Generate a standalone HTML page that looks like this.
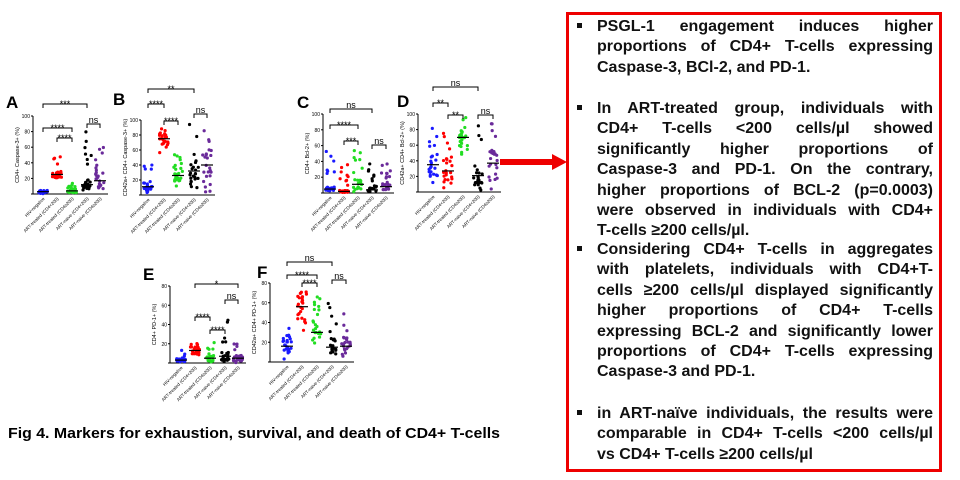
<!DOCTYPE html>
<html><head><meta charset="utf-8"><style>
html,body{margin:0;padding:0;background:#fff;width:960px;height:480px;overflow:hidden;font-family:"Liberation Sans",Arial,sans-serif}
#box{position:absolute;left:566px;top:12px;width:370px;height:454px;border:3px solid #ee0000}
.t{position:absolute;left:597px;width:336px;font-weight:bold;font-size:16px;line-height:20.4px;color:#111}
.t div{text-align:justify;text-align-last:justify;white-space:nowrap}
.t div.l{text-align-last:left}
.b{position:absolute;left:577px;width:5px;height:5px;background:#111}
</style></head><body>
<svg id="s" width="960" height="480" style="position:absolute;left:0;top:0"></svg>
<div id="box"></div>
<div class="b" style="left:577px;top:23px"></div>
<div class="t" style="top:17px"><div>PSGL-1 engagement induces higher</div><div>proportions of CD4+ T-cells expressing</div><div class="l">Caspase-3, BCl-2, and PD-1.</div></div>
<div class="b" style="top:105px"></div>
<div class="t" style="top:99px"><div>In ART-treated group, individuals with</div><div>CD4+ T-cells &lt;200 cells/µl showed</div><div>significantly higher proportions of</div><div>Caspase-3 and PD-1. On the contrary,</div><div>higher proportions of BCL-2 (p=0.0003)</div><div>were observed in individuals with CD4+</div><div class="l">T-cells ≥200 cells/µl.</div></div>
<div class="b" style="top:246px"></div>
<div class="t" style="top:240px"><div>Considering CD4+ T-cells in aggregates</div><div>with platelets, individuals with CD4+T-</div><div>cells ≥200 cells/µl displayed significantly</div><div>higher proportions of CD4+ T-cells</div><div>expressing BCL-2 and significantly lower</div><div>proportions of CD4+ T-cells expressing</div><div class="l">Caspase-3 and PD-1.</div></div>
<div class="b" style="top:410px"></div>
<div class="t" style="top:404px"><div>in ART-naïve individuals, the results were</div><div>comparable in CD4+ T-cells &lt;200 cells/µl</div><div class="l">vs CD4+ T-cells ≥200 cells/µl</div></div>
<script>
var NS="http://www.w3.org/2000/svg",S=document.getElementById('s'),seed=7;
function r(){seed=(seed*9301+49297)%233280;return seed/233280;}
function el(t,a,txt){var e=document.createElementNS(NS,t);for(var k in a)e.setAttribute(k,a[k]);if(txt)e.textContent=txt;S.appendChild(e);return e;}
var C=['#1a1aff','#ff0000','#22dd22','#000','#6a2a9a'];
var L=['HIV-negative','ART-treated (CD4<200)','ART-treated (CD4≥200)','ART-naive (CD4<200)','ART-naive (CD4≥200)'];
function panel(p){
 var h=p.bot-p.top;function Y(v){return p.bot-v/p.max*h;}
 el('text',{x:p.lx,y:p.ly,'font-size':17,'font-weight':'bold'},p.lab);
 el('line',{x1:p.ax,y1:p.top,x2:p.ax,y2:p.bot,stroke:'#000','stroke-width':1});
 el('line',{x1:p.ax,y1:p.bot,x2:p.g[4]+8,y2:p.bot,stroke:'#000','stroke-width':1});
 for(var i=0;i<=p.max;i+=20){el('line',{x1:p.ax-2,y1:Y(i),x2:p.ax,y2:Y(i),stroke:'#000'});el('text',{x:p.ax-3,y:Y(i)+2,'font-size':5,'text-anchor':'end'},i);}
 var cy=(p.top+p.bot)/2;el('text',{x:p.ax-14,y:cy,'font-size':5.5,'text-anchor':'middle',transform:'rotate(-90 '+(p.ax-14)+' '+cy+')'},p.yl);
 for(var g=0;g<5;g++){var d=p.d[g],x=p.g[g];
  for(var k=0;k<24;k++){var u=r(),v=u<0.6?d[0]+(r()-0.5)*(d[0]-d[1])*1.2:d[1]+r()*(d[2]-d[1]);v=Math.max(0,Math.min(p.max,v));
   el('circle',{cx:x+(r()-0.5)*9,cy:Y(v),r:1.6,fill:C[g]});}
  el('line',{x1:x-6,y1:Y(d[0]),x2:x+6,y2:Y(d[0]),stroke:'#000','stroke-width':1.2});
  el('text',{x:x+2,y:p.bot+5,'font-size':4.5,'text-anchor':'end',transform:'rotate(-45 '+(x+2)+' '+(p.bot+5)+')'},L[g]);}
 p.br.forEach(function(b){var x1=p.g[b[0]],x2=p.g[b[1]];
  el('path',{d:'M'+x1+' '+(b[2]+4)+'V'+b[2]+'H'+x2+'V'+(b[2]+4),fill:'none',stroke:'#000','stroke-width':1});
  el('text',{x:(x1+x2)/2,y:b[2]-1+(b[3]=='ns'?0:4),'font-size':9,'text-anchor':'middle'},b[3]);});
}
panel({lab:'A',lx:6,ly:108,ax:33,top:116,bot:194,max:100,g:[43,57,72,87,100],yl:'CD4+ Caspase-3+ (%)',
 d:[[3,0,6],[25,18,50],[4,0,15],[12,0,84],[17,0,62]],br:[[0,3,104,'***'],[0,2,128,'****'],[1,2,138,'****'],[3,4,124,'ns']]});
panel({lab:'B',lx:113,ly:105,ax:141,top:120,bot:195,max:100,g:[148,164,178,194,207],yl:'CD42a+ CD4+ Caspase-3+ (%)',
 d:[[11,0,50],[75,56,92],[26,12,54],[32,2,96],[40,2,92]],br:[[0,3,89,'**'],[0,1,104,'****'],[1,2,121,'****'],[3,4,114,'ns']]});
panel({lab:'C',lx:297,ly:108,ax:323,top:114,bot:193,max:100,g:[330,344,358,372,386],yl:'CD4+ Bcl-2+ (%)',
 d:[[5,0,56],[2,0,42],[11,0,56],[4,0,38],[8,0,38]],br:[[0,3,109,'ns'],[0,2,125,'****'],[1,2,141,'***'],[3,4,145,'ns']]});
panel({lab:'D',lx:397,ly:107,ax:418,top:114,bot:192,max:100,g:[433,448,463,478,493],yl:'CD42a+ CD4+ Bcl-2+ (%)',
 d:[[35,10,92],[27,0,88],[70,44,96],[21,0,86],[37,0,90]],br:[[0,3,87,'ns'],[0,1,103,'**'],[1,2,115,'**'],[3,4,115,'ns']]});
panel({lab:'E',lx:143,ly:280,ax:170,top:286,bot:363,max:80,g:[181,195,210,225,238],yl:'CD4+ PD-1+ (%)',
 d:[[3,0,15],[13,6,22],[5,0,23],[7,0,55],[5,0,48]],br:[[1,4,284,'*'],[1,2,317,'****'],[2,3,330,'****'],[3,4,300,'ns']]});
panel({lab:'F',lx:257,ly:278,ax:270,top:283,bot:362,max:80,g:[287,302,317,332,346],yl:'CD42a+ CD4+ PD-1+ (%)',
 d:[[16,3,37],[56,30,67],[30,17,66],[15,0,72],[16,0,67]],br:[[0,3,262,'ns'],[0,2,275,'****'],[1,2,283,'****'],[3,4,280,'ns']]});
el('rect',{x:500,y:159,width:55,height:6,fill:'#ee0000'});
el('path',{d:'M552 154L567 162L552 170Z',fill:'#ee0000'});
el('text',{x:8,y:438,'font-size':14.5,'font-weight':'bold',textLength:492,lengthAdjust:'spacingAndGlyphs'},'Fig 4. Markers for exhaustion, survival, and death of CD4+ T-cells');
</script>
</body></html>
